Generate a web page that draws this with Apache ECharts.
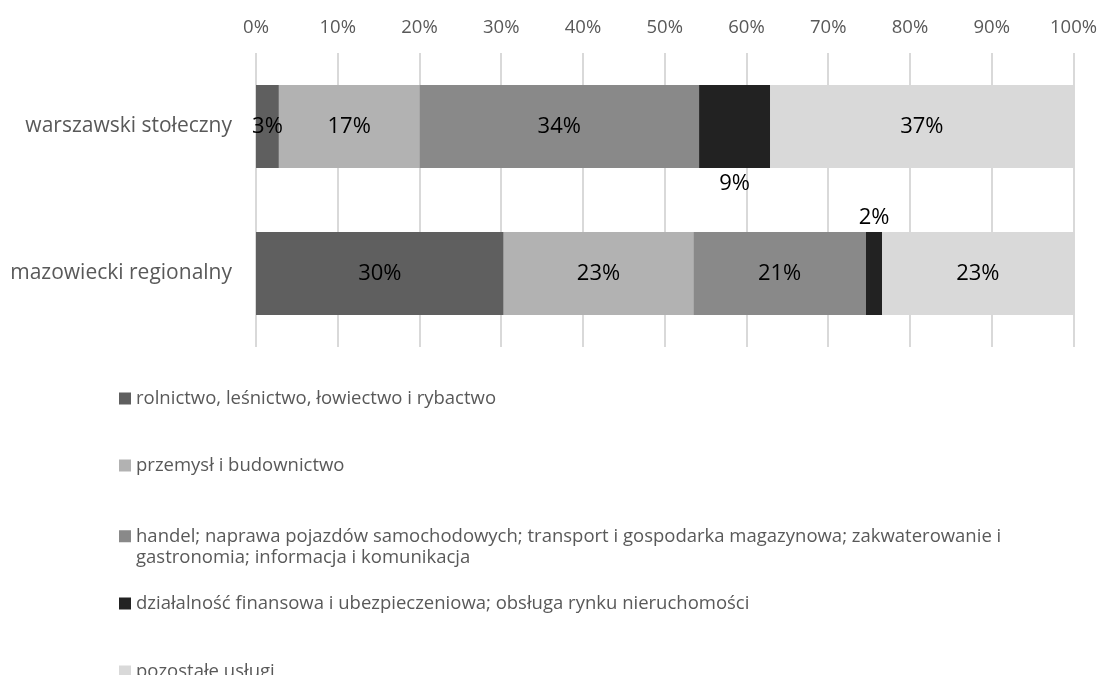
<!DOCTYPE html>
<html>
<head>
<meta charset="utf-8">
<script src="https://cdn.jsdelivr.net/npm/echarts@6/dist/echarts.min.js"></script>
<style>
  html, body { margin: 0; padding: 0; background: #fff; }
  #chart { width: 1100px; height: 675px; }
</style>
</head>
<body>
<div id="chart"></div>
<script>
var regions = ["warszawski stołeczny", "mazowiecki regionalny"];
var sectors = [
  "rolnictwo, leśnictwo, łowiectwo i rybactwo",
  "przemysł i budownictwo",
  "handel; naprawa pojazdów samochodowych; transport i gospodarka magazynowa; zakwaterowanie i\ngastronomia; informacja i komunikacja",
  "działalność finansowa i ubezpieczeniowa; obsługa rynku nieruchomości",
  "pozostałe usługi"
];
// udział (%) dla: warszawski stołeczny, mazowiecki regionalny
var rolnictwo = [2.8, 30.3];
var przemysl = [17.2, 23.2];
var handel = [34.2, 21.1];
var finanse = [8.7, 2.0];
var pozostale = [37.1, 23.4];
var xTicks = [0, 10, 20, 30, 40, 50, 60, 70, 80, 90, 100];

var colors = ["#5f5f5f", "#b2b2b2", "#898989", "#222222", "#d9d9d9"];
var values = [rolnictwo, przemysl, handel, finanse, pozostale];
var font = "'Open Sans', 'Noto Sans', sans-serif";

var myChart = echarts.init(document.getElementById("chart"));

var series = sectors.map(function (name, i) {
  var data = values[i].map(function (v, j) {
    var item = { value: v };
    // etykiety małych segmentów wystają poza słupek
    if (i == 3 && j == 0) item.label = { position: "bottom", distance: 5 };
    if (i == 3 && j == 1) item.label = { position: "top", distance: 3 };
    return item;
  });
  return {
    name: name,
    type: "bar",
    stack: "total",
    barWidth: 83,
    itemStyle: { color: colors[i] },
    label: {
      show: true,
      position: "inside",
      color: "#000",
      fontSize: 22,
      fontFamily: font,
      formatter: function (p) { return Math.round(p.value) + "%"; }
    },
    data: data
  };
});

// osobna legenda dla każdej pozycji (nierówne odstępy jak w oryginale)
var legendTops = [383, 450, 521, 588, 656];
var legends = sectors.map(function (name, i) {
  return {
    data: [name],
    left: 114,
    top: legendTops[i],
    itemWidth: 12,
    itemHeight: 12,
    itemGap: 5,
    icon: i == 2 ? "path://M0,0h10v10h-10zM0,28h0.01v0.01h-0.01z" : "rect",
    selectedMode: false,
    textStyle: { color: "#595959", fontSize: 18.5, fontFamily: font, lineHeight: 21 }
  };
});
legends[2].itemHeight = 34;

var option = {
  animation: false,
  textStyle: { fontFamily: font },
  legend: legends,
  grid: { left: 256, right: 26, top: 53, bottom: 328, containLabel: false },
  xAxis: {
    type: "value",
    position: "top",
    min: xTicks[0],
    max: xTicks[xTicks.length - 1],
    interval: xTicks[1] - xTicks[0],
    axisLine: { show: false },
    axisTick: { show: false },
    axisLabel: { color: "#595959", fontSize: 18.5, margin: 16, formatter: "{value}%" },
    splitLine: { lineStyle: { color: "#d9d9d9", width: 2 } }
  },
  yAxis: {
    type: "category",
    inverse: true,
    data: regions,
    axisLine: { show: false },
    axisTick: { show: false },
    axisLabel: { color: "#595959", fontSize: 21, margin: 24 }
  },
  series: series
};
myChart.setOption(option);
</script>
</body>
</html>
